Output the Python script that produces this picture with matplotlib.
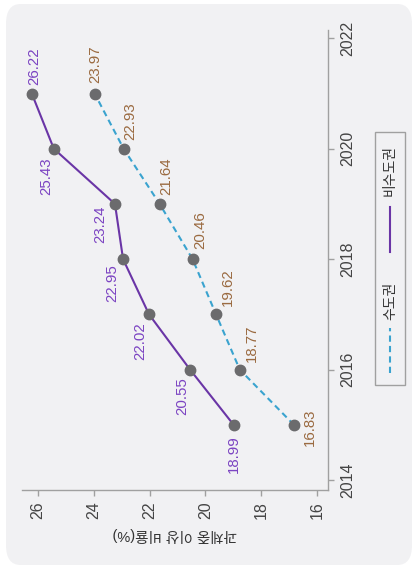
import matplotlib
matplotlib.use("Agg")
import matplotlib.pyplot as plt
from matplotlib.patches import FancyBboxPatch, Rectangle
from matplotlib.lines import Line2D

plt.rcParams['font.family'] = ['Liberation Sans', 'Noto Sans CJK KR', 'DejaVu Sans']

years = [2015, 2016, 2017, 2018, 2019, 2020, 2021]
capital = [16.83, 18.77, 19.62, 20.46, 21.64, 22.93, 23.97]
non_capital = [18.99, 20.55, 22.02, 22.95, 23.24, 25.43, 26.22]
series_names = ['수도권', '비수도권']
axis_title = '과체중 이상 비율(%)'
value_ticks = [16, 18, 20, 22, 24, 26]
year_ticks = [2014, 2016, 2018, 2020, 2022]

# label offsets (pixels) so the numbers sit clear of the lines
cap_offsets = [(9, -2), (12, 8), (12, 8), (8, 10), (7, 9), (7, 9), (1, 11)]
noncap_offsets = [(0, -10), (-8, -8), (-9, -8), (-11, -5), (-15, -2), (-8, -9), (2, 9)]

purple_line = '#6a35a6'
purple_text = '#7b43c2'
teal = '#3aa3cf'
brown = '#9a6a40'
dot = '#6b6b6d'
spine = '#a0a0a0'
bg = '#f1f1f3'

fig = plt.figure(figsize=(4.17, 5.69), dpi=100, facecolor='white')
fig.patches.append(FancyBboxPatch((6 / 417, 4 / 569), 406 / 417, 561 / 569,
                                  boxstyle='round,pad=0,rounding_size=0.035',
                                  transform=fig.transFigure, facecolor=bg,
                                  edgecolor='none', zorder=-5))

ax = fig.add_axes([22 / 417, 1 - 490 / 569, 306 / 417, 460 / 569])
ax.set_facecolor('none')
ax.set_zorder(2)

# values run along the horizontal axis, years up the right side
ax.plot(capital, years, color=teal, lw=1.5, ls=(0, (3, 2)), zorder=2)
ax.plot(non_capital, years, color=purple_line, lw=1.5, zorder=2)
ax.plot(capital, years, 'o', color=dot, ms=7.5, zorder=3)
ax.plot(non_capital, years, 'o', color=dot, ms=7.5, zorder=3)

for i, (v, y) in enumerate(zip(capital, years)):
    dx, dy = cap_offsets[i]
    if i == 0:
        ha, va = 'left', 'center'
    else:
        ha, va = 'center', 'bottom'
    ax.annotate(f'{v:.2f}', (v, y), xytext=(dx, dy), textcoords='offset pixels',
                rotation=90, ha=ha, va=va, color=brown, fontsize=10.8)

for i, (v, y) in enumerate(zip(non_capital, years)):
    dx, dy = noncap_offsets[i]
    va = 'bottom' if i == len(years) - 1 else 'top'
    ax.annotate(f'{v:.2f}', (v, y), xytext=(dx, dy), textcoords='offset pixels',
                rotation=90, ha='center', va=va, color=purple_text, fontsize=10.8)

ax.set_xlim(26.57, 15.61)
ax.set_ylim(2013.82, 2022.15)
ax.set_xticks(value_ticks)
ax.set_yticks(year_ticks)
ax.yaxis.tick_right()

for side in ['left', 'top']:
    ax.spines[side].set_visible(False)
for side in ['right', 'bottom']:
    ax.spines[side].set_color(spine)
    ax.spines[side].set_linewidth(1.0)

ax.tick_params(axis='both', colors=spine, labelcolor='#444444', length=4, width=1.0,
               labelsize=11.5)
ax.tick_params(axis='y', pad=5)
ax.tick_params(axis='x', pad=4)
plt.setp(ax.get_xticklabels(), rotation=90)
plt.setp(ax.get_yticklabels(), rotation=90, va='center')

ax.set_xlabel(axis_title, rotation=180, fontsize=10.5, color='#333333', labelpad=6)

# legend box drawn by hand so it can run vertically
fig.patches.append(Rectangle((375 / 417, 1 - 385 / 569), 30 / 417, 253 / 569,
                             transform=fig.transFigure, facecolor='none',
                             edgecolor=spine, lw=1.0, zorder=1))
lx = 390 / 417
fig.lines.append(Line2D([lx, lx], [1 - 373 / 569, 1 - 328 / 569], transform=fig.transFigure,
                        color=teal, lw=1.5, ls=(0, (3, 2))))
fig.text(lx, 1 - 301 / 569, series_names[0], rotation=90, ha='center', va='center',
         fontsize=10, color='#333333')
fig.lines.append(Line2D([lx, lx], [1 - 252 / 569, 1 - 207 / 569], transform=fig.transFigure,
                        color=purple_line, lw=1.5))
fig.text(lx, 1 - 171 / 569, series_names[1], rotation=90, ha='center', va='center',
         fontsize=10, color='#333333')

fig.savefig('out.png', dpi=100, facecolor='white')
